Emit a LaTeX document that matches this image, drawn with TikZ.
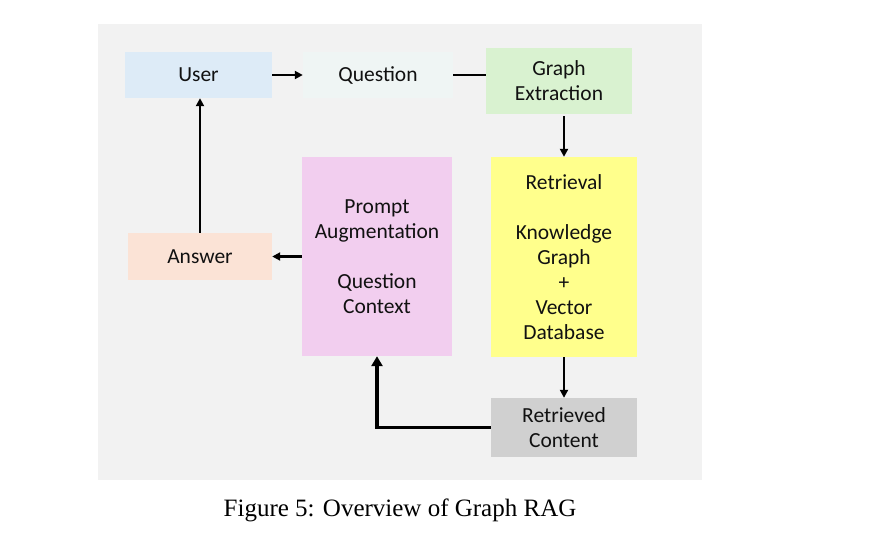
\documentclass[tikz,border=0pt]{standalone}
\usepackage{fontspec}
\setmainfont{Carlito}
\newfontfamily\capfont{Liberation Serif}
\usetikzlibrary{arrows.meta,calc}
\definecolor{panel}{HTML}{F2F2F2}
\definecolor{userc}{HTML}{DDEBF7}
\definecolor{questc}{HTML}{EFF5F4}
\definecolor{graphc}{HTML}{D9F2D0}
\definecolor{retrc}{HTML}{FFFF8C}
\definecolor{promptc}{HTML}{F2CEEF}
\definecolor{answerc}{HTML}{FBE3D6}
\definecolor{rcc}{HTML}{D0D0D0}
\definecolor{txt}{HTML}{111111}
\tikzset{
  box/.style={rectangle, inner sep=0pt, align=center, text=txt,
    font=\fontsize{21.5}{25}\selectfont},
  arr/.style={line width=2.2pt, -{Triangle[length=8pt,width=8pt]}},
  plain/.style={line width=2.2pt},
  thick arr/.style={line width=3.6pt, -{Triangle[length=10pt,width=11pt]}}
}
\begin{document}
\begin{tikzpicture}[x=1pt,y=-1pt]
\useasboundingbox (0,0) rectangle (896,549);
\fill[white] (0,0) rectangle (896,549);
\fill[panel] (98,24) rectangle (702,480);
\node[box, fill=userc, minimum width=147pt, minimum height=46pt] (user) at (198.5,75) {User};
\node[box, fill=questc, minimum width=150pt, minimum height=46pt] (question) at (378,75) {Question};
\node[box, fill=graphc, minimum width=146pt, minimum height=66pt] (graph) at (559,81) {Graph\\Extraction};
\node[box, fill=retrc, minimum width=146pt, minimum height=200pt] (retr) at (564,257) {Retrieval\\[25pt]Knowledge\\Graph\\+\\Vector\\Database};
\node[box, fill=promptc, minimum width=150pt, minimum height=199pt] (prompt) at (377,256.5) {Prompt\\Augmentation\\[25pt]Question\\Context};
\node[box, fill=answerc, minimum width=144pt, minimum height=47pt] (answer) at (200,256.5) {Answer};
\node[box, fill=rcc, minimum width=146pt, minimum height=59pt] (rc) at (564,427.5) {Retrieved\\Content};
\node[font=\capfont\fontsize{25}{30}\selectfont, text=black] (cap) at (400,510) {Figure 5: Overview of Graph RAG};
\draw[arr] (user.east) -- (question.west);
\draw[plain] (question.east) -- (question.east -| graph.west);
\draw[arr] ($(graph.south -| retr.north)+(0,2)$) -- (retr.north);
\draw[arr] (retr.south) -- (rc.north);
\draw[thick arr] (rc.west) -- (prompt.south |- rc.west) -- (prompt.south);
\draw[arr] (prompt.west) -- (answer.east);
\draw[arr] (answer.north) -- (answer.north |- user.south);
\end{tikzpicture}
\end{document}
